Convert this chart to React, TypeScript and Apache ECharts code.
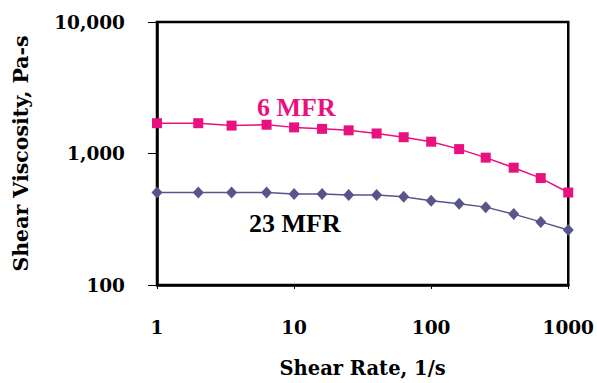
import React, { useEffect, useRef } from "react";
import * as echarts from "echarts";

const shearRate = [1, 2, 3.5, 6.3, 10, 16, 25, 40, 63, 100, 160, 250, 400, 630, 1000];
const mfr6 = [1700, 1700, 1630, 1655, 1580, 1540, 1500, 1420, 1330, 1230, 1080, 930, 780, 650, 505];
const mfr23 = [505, 505, 505, 505, 492, 492, 483, 483, 469, 438, 414, 391, 346, 302, 262];
const seriesNames = ["6 MFR", "23 MFR"];

const FONT = "DejaVu Serif";
const LABEL_FONT = "Liberation Serif";

export default function App() {
  const ref = useRef<HTMLDivElement>(null);
  useEffect(() => {
    if (!ref.current) return;
    const chart = echarts.init(ref.current, null, { renderer: "svg" });
    const fmt = (v: number) => Math.round(v).toLocaleString("en-US");
    chart.setOption({
      animation: false,
      backgroundColor: "#ffffff",
      grid: {
        left: 157,
        right: 27,
        top: 22,
        bottom: 93,
        show: true,
        borderColor: "#000",
        borderWidth: 2.5,
      },
      xAxis: {
        type: "log",
        logBase: 10,
        min: 1,
        max: 1000,
        name: "Shear Rate, 1/s",
        nameLocation: "middle",
        nameGap: 73,
        nameTextStyle: { fontFamily: FONT, fontWeight: "bold", fontSize: 19.5, color: "#000" },
        axisLine: { show: true, lineStyle: { color: "#000", width: 2.5 } },
        axisTick: { show: true, inside: false, length: 4, lineStyle: { color: "#000", width: 1 } },
        minorTick: { show: false },
        splitLine: { show: false },
        axisLabel: {
          margin: 33,
          fontFamily: FONT,
          fontWeight: "bold",
          fontSize: 18.5,
          color: "#000",
          formatter: (v: number) => String(Math.round(v)),
        },
      },
      yAxis: {
        type: "log",
        logBase: 10,
        min: 100,
        max: 10000,
        name: "Shear Viscosity, Pa-s",
        nameLocation: "middle",
        nameGap: 126,
        nameTextStyle: { fontFamily: FONT, fontWeight: "bold", fontSize: 20.5, color: "#000" },
        axisLine: { show: true, lineStyle: { color: "#000", width: 2.5 } },
        axisTick: { show: true, inside: false, length: 9, lineStyle: { color: "#000", width: 1 } },
        splitLine: { show: false },
        axisLabel: {
          margin: 32,
          fontFamily: FONT,
          fontWeight: "bold",
          fontSize: 18.5,
          color: "#000",
          formatter: fmt,
        },
      },
      series: [
        {
          name: seriesNames[0],
          type: "line",
          data: shearRate.map((x, i) => [x, mfr6[i]]),
          symbol: "rect",
          symbolSize: 10,
          itemStyle: { color: "#E8117F" },
          lineStyle: { color: "#E8117F", width: 1.5 },
        },
        {
          name: seriesNames[1],
          type: "line",
          data: shearRate.map((x, i) => [x, mfr23[i]]),
          symbol: "diamond",
          symbolSize: [11, 12],
          itemStyle: { color: "#57558A" },
          lineStyle: { color: "#57558A", width: 1.5 },
        },
      ],
      graphic: [
        {
          type: "text",
          left: 257,
          top: 94,
          style: { text: seriesNames[0], fontFamily: LABEL_FONT, fontWeight: "bold", fontSize: 26, fill: "#E8117F" },
        },
        {
          type: "text",
          left: 249,
          top: 210,
          style: { text: seriesNames[1], fontFamily: LABEL_FONT, fontWeight: "bold", fontSize: 26, fill: "#000" },
        },
      ],
    });
    return () => chart.dispose();
  }, []);
  return <div ref={ref} style={{ position: "fixed", left: 0, top: 0, width: 597, height: 383 }} />;
}
